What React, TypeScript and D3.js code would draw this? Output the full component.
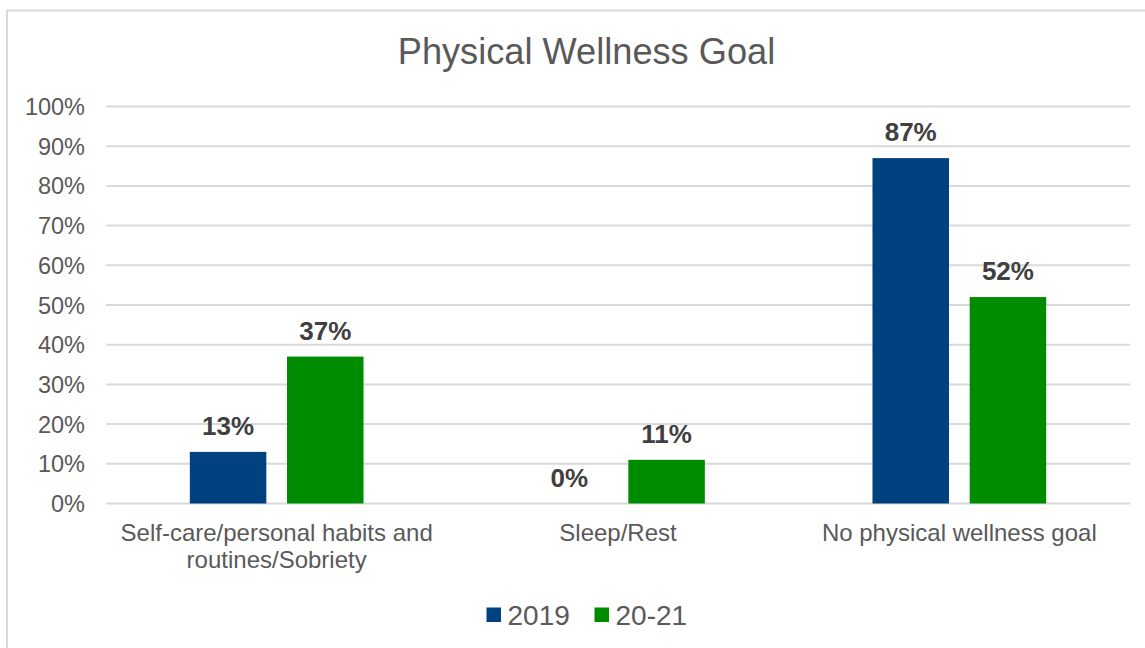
import React from "react";
import * as d3 from "d3";

const title = "Physical Wellness Goal";
const categories = [
  "Self-care/personal habits and routines/Sobriety",
  "Sleep/Rest",
  "No physical wellness goal",
];
const seriesNames = ["2019", "20-21"];
const values2019 = [0.13, 0.0, 0.87];
const values2021 = [0.37, 0.11, 0.52];
const yTicks = [0, 0.1, 0.2, 0.3, 0.4, 0.5, 0.6, 0.7, 0.8, 0.9, 1.0];
const colors = ["#00417F", "#008C00"];

const W = 1145;
const H = 648;
const FONT = "'Liberation Sans', Arial, sans-serif";

function measure(text: string, size: number, weight = "normal") {
  const c = document.createElement("canvas");
  const ctx = c.getContext("2d")!;
  ctx.font = `${weight} ${size}px 'Liberation Sans', Arial, sans-serif`;
  return ctx.measureText(text).width;
}

function wrap(text: string, size: number, maxW: number): string[] {
  const words = text.split(" ");
  const lines: string[] = [];
  let cur = "";
  for (const w of words) {
    const t = cur ? cur + " " + w : w;
    if (cur && measure(t, size) > maxW) {
      lines.push(cur);
      cur = w;
    } else cur = t;
  }
  if (cur) lines.push(cur);
  return lines;
}

export default function App() {
  const y = d3.scaleLinear().domain([0, 1]).range([503.5, 106.5]);
  const x0 = d3.scaleBand<string>().domain(categories).range([106, 1130]).padding(0);
  const groupW = 173.7;
  const x1 = d3.scaleBand<string>().domain(seriesNames).range([0, groupW]).paddingInner(0.213).paddingOuter(0);
  const seriesVals = [values2019, values2021];
  const fmt = d3.format(".0%");
  const axisSize = 24;

  const legendX = [486.5, 594.5];

  return (
    <svg
      width={W}
      height={H}
      style={{ position: "absolute", left: 0, top: 0, display: "block", background: "#fff" }}
      fontFamily={FONT}
    >
      <rect x={7} y={10.5} width={1200} height={700} fill="#fff" stroke="#d9d9d9" strokeWidth={2} />
      <text x={586.5} y={63.5} textAnchor="middle" fontSize={36.2} fill="#595959">
        {title}
      </text>
      {yTicks.map((t) => (
        <g key={t}>
          <line x1={106} x2={1130} y1={y(t)} y2={y(t)} stroke="#d9d9d9" strokeWidth={2} />
          <text x={85} y={y(t) + 8.5} textAnchor="end" fontSize={23.5} fill="#595959">
            {fmt(t)}
          </text>
        </g>
      ))}
      {categories.map((c, ci) => {
        const gx = x0(c)! + (x0.bandwidth() - groupW) / 2;
        const cx = x0(c)! + x0.bandwidth() / 2;
        const lines = wrap(c, axisSize, 330);
        return (
          <g key={c}>
            {seriesNames.map((s, si) => {
              const v = seriesVals[si][ci];
              const bx = gx + x1(s)!;
              return (
                <g key={s}>
                  <rect x={bx} y={y(v)} width={x1.bandwidth()} height={y(0) - y(v)} fill={colors[si]} />
                  <text
                    x={bx + x1.bandwidth() / 2}
                    y={y(v) - 17}
                    textAnchor="middle"
                    fontSize={26}
                    fontWeight="bold"
                    fill="#404040"
                  >
                    {fmt(v)}
                  </text>
                </g>
              );
            })}
            {lines.map((l, li) => (
              <text key={li} x={cx} y={541 + li * 26.5} textAnchor="middle" fontSize={axisSize} fill="#595959">
                {l}
              </text>
            ))}
          </g>
        );
      })}
      {seriesNames.map((s, si) => (
        <g key={s}>
          <rect x={legendX[si]} y={607.5} width={14.5} height={14.5} fill={colors[si]} />
          <text x={legendX[si] + 21} y={625} fontSize={28} fill="#595959">
            {s}
          </text>
        </g>
      ))}
    </svg>
  );
}
